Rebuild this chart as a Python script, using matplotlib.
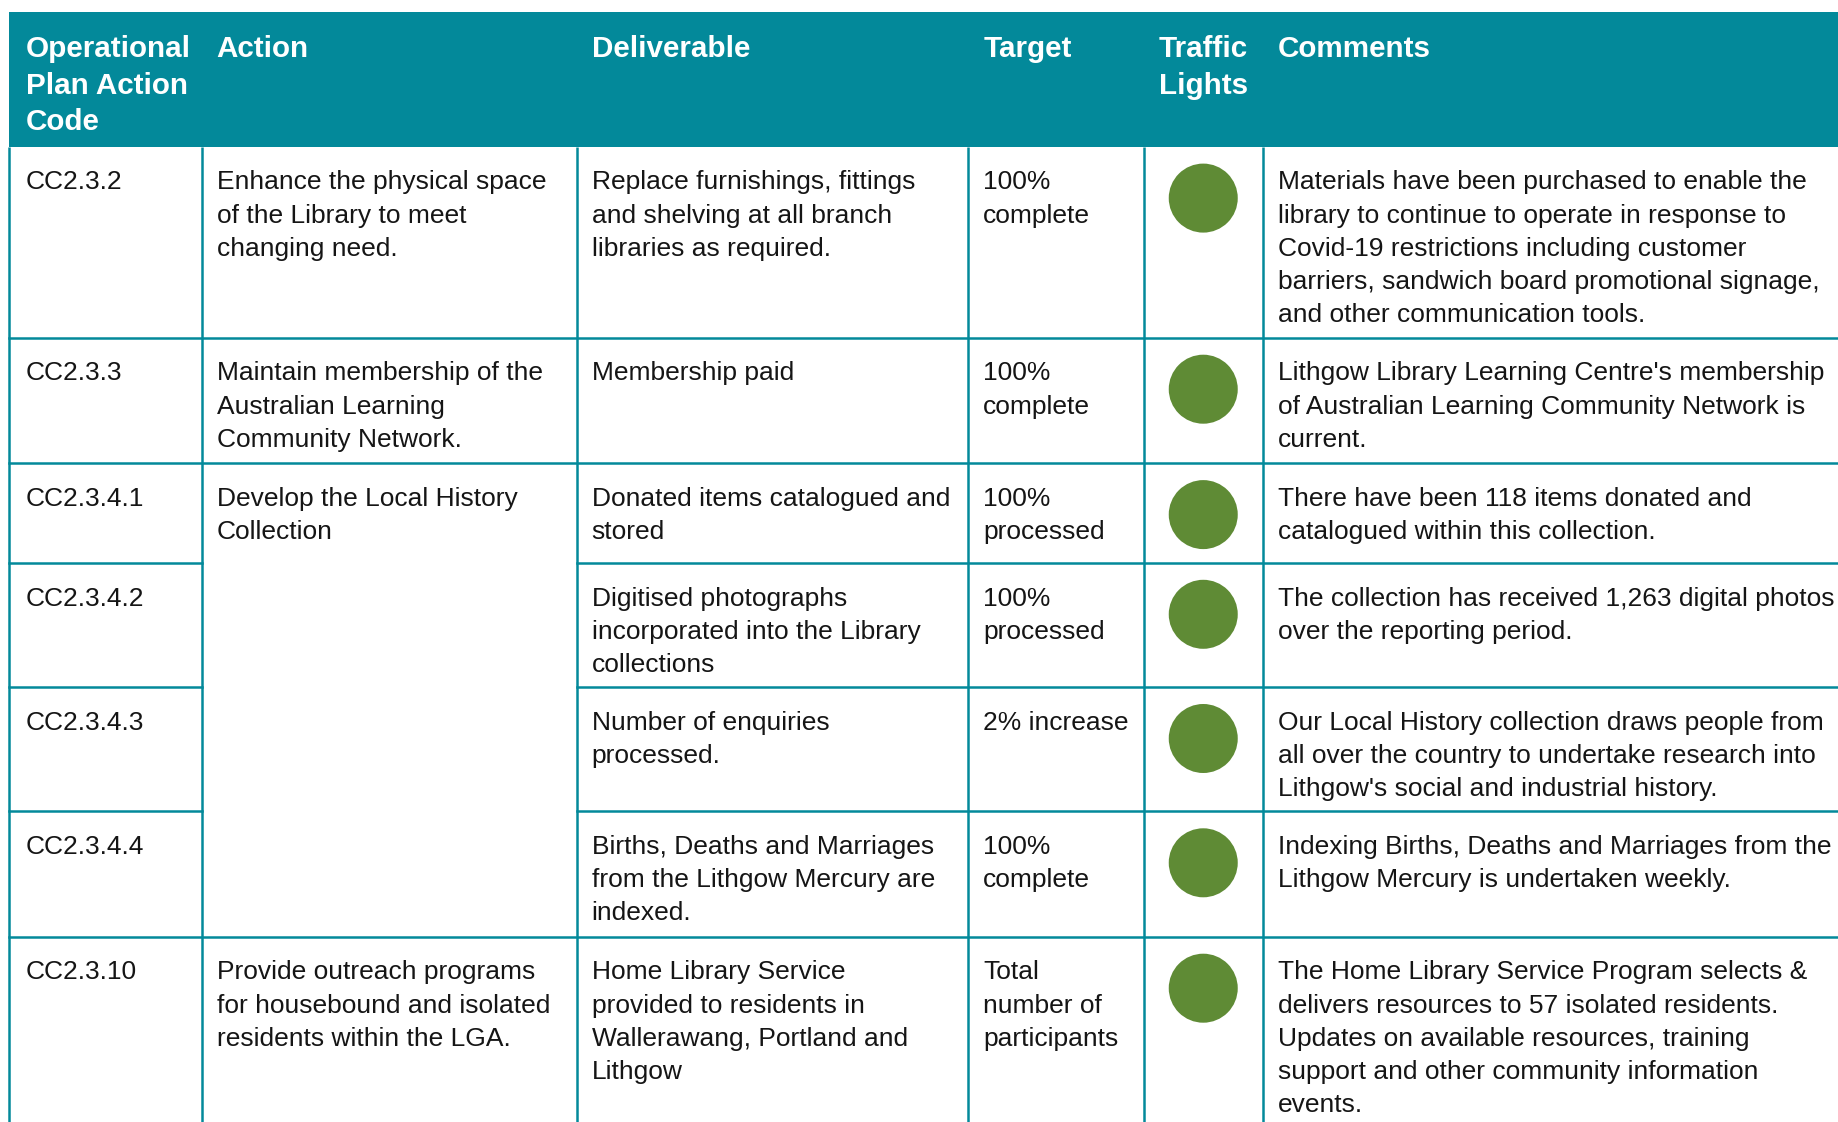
import matplotlib
matplotlib.use("Agg")
from matplotlib import pyplot as plt
from matplotlib.patches import Rectangle, Ellipse

plt.rcParams['font.family'] = ['Liberation Sans', 'DejaVu Sans']

# ---- table content ----
headers = ["Operational\nPlan Action\nCode", "Action", "Deliverable", "Target",
           "Traffic\nLights", "Comments"]

codes = ["CC2.3.2", "CC2.3.3", "CC2.3.4.1", "CC2.3.4.2", "CC2.3.4.3",
         "CC2.3.4.4", "CC2.3.10"]

# action text, with the row it starts on and how many rows it spans
actions = [
    ("Enhance the physical space\nof the Library to meet\nchanging need.", 0, 1),
    ("Maintain membership of the\nAustralian Learning\nCommunity Network.", 1, 1),
    ("Develop the Local History\nCollection", 2, 4),
    ("Provide outreach programs\nfor housebound and isolated\nresidents within the LGA.", 6, 1),
]

deliverables = [
    "Replace furnishings, fittings\nand shelving at all branch\nlibraries as required.",
    "Membership paid",
    "Donated items catalogued and\nstored",
    "Digitised photographs\nincorporated into the Library\ncollections",
    "Number of enquiries\nprocessed.",
    "Births, Deaths and Marriages\nfrom the Lithgow Mercury are\nindexed.",
    "Home Library Service\nprovided to residents in\nWallerawang, Portland and\nLithgow",
]

targets = ["100%\ncomplete", "100%\ncomplete", "100%\nprocessed", "100%\nprocessed",
           "2% increase", "100%\ncomplete", "Total\nnumber of\nparticipants"]

lights = ["green", "green", "green", "green", "green", "green", "green"]

comments = [
    "Materials have been purchased to enable the\nlibrary to continue to operate in response to\n"
    "Covid-19 restrictions including customer\nbarriers, sandwich board promotional signage,\n"
    "and other communication tools.",
    "Lithgow Library Learning Centre's membership\nof Australian Learning Community Network is\ncurrent.",
    "There have been 118 items donated and\ncatalogued within this collection.",
    "The collection has received 1,263 digital photos\nover the reporting period.",
    "Our Local History collection draws people from\nall over the country to undertake research into\n"
    "Lithgow's social and industrial history.",
    "Indexing Births, Deaths and Marriages from the\nLithgow Mercury is undertaken weekly.",
    "The Home Library Service Program selects &\ndelivers resources to 57 isolated residents.\n"
    "Updates on available resources, training\nsupport and other community information\nevents.",
]

# ---- layout (pixels) ----
W, H = 1838, 1122
TEAL = "#03899a"
GREEN = "#5f8b35"
TEXT = "#151515"

col_edges = [9, 201.6, 576.7, 968.2, 1144, 1262.5, W]
header_top, header_bottom = 12, 146.5
row_tops = [146.5, 337.6, 463, 562.7, 686.9, 811.2, 936.6]

body_size = 19
head_size = 21.3
body_step = 33.2
head_step = 36.2
pad = 15


def draw_lines(ax, text, x, y, size, step, **kw):
    for i, line in enumerate(text.split("\n")):
        ax.text(x, y + i * step, line, fontsize=size, va="baseline", ha="left", **kw)


def main():
    fig = plt.figure(figsize=(W / 100, H / 100), dpi=100)
    ax = fig.add_axes([0, 0, 1, 1])
    ax.set_xlim(0, W)
    ax.set_ylim(H, 0)
    ax.axis("off")

    # header band
    ax.add_patch(Rectangle((col_edges[0], header_top), W - col_edges[0],
                           header_bottom - header_top, color=TEAL, lw=0))
    for j, h in enumerate(headers):
        x = col_edges[j] + (pad + 2 if j == 0 else pad)
        draw_lines(ax, h, x, header_top + 45.3, head_size, head_step,
                   color="white", fontweight="bold")

    lw = 1.8
    # vertical grid lines
    for x in col_edges[:-1]:
        ax.plot([x, x], [header_bottom, H], color=TEAL, lw=lw, solid_capstyle="butt")

    # horizontal grid lines, skipping the merged action cell
    merged = [(r0, r0 + n) for _, r0, n in actions if n > 1]
    for r in range(1, len(row_tops)):
        y = row_tops[r]
        inside = any(r0 < r < r1 for r0, r1 in merged)
        if inside:
            ax.plot([col_edges[0], col_edges[1]], [y, y], color=TEAL, lw=lw)
            ax.plot([col_edges[2], W], [y, y], color=TEAL, lw=lw)
        else:
            ax.plot([col_edges[0], W], [y, y], color=TEAL, lw=lw)

    base = 42.8
    for i, top in enumerate(row_tops):
        draw_lines(ax, codes[i], col_edges[0] + pad + 2, top + base, body_size, body_step, color=TEXT)
        draw_lines(ax, deliverables[i], col_edges[2] + pad, top + base, body_size, body_step, color=TEXT)
        draw_lines(ax, targets[i], col_edges[3] + pad, top + base, body_size, body_step, color=TEXT)
        draw_lines(ax, comments[i], col_edges[5] + pad, top + base, body_size, body_step, color=TEXT)

        cx = (col_edges[4] + col_edges[5]) / 2
        ax.add_patch(Ellipse((cx, top + 51.6), 69, 69,
                             color=GREEN if lights[i] == "green" else lights[i], lw=0))

    for text, r0, n in actions:
        draw_lines(ax, text, col_edges[1] + pad, row_tops[r0] + base, body_size, body_step, color=TEXT)

    fig.savefig("out.png", dpi=100)


if __name__ == '__main__':
    main()
